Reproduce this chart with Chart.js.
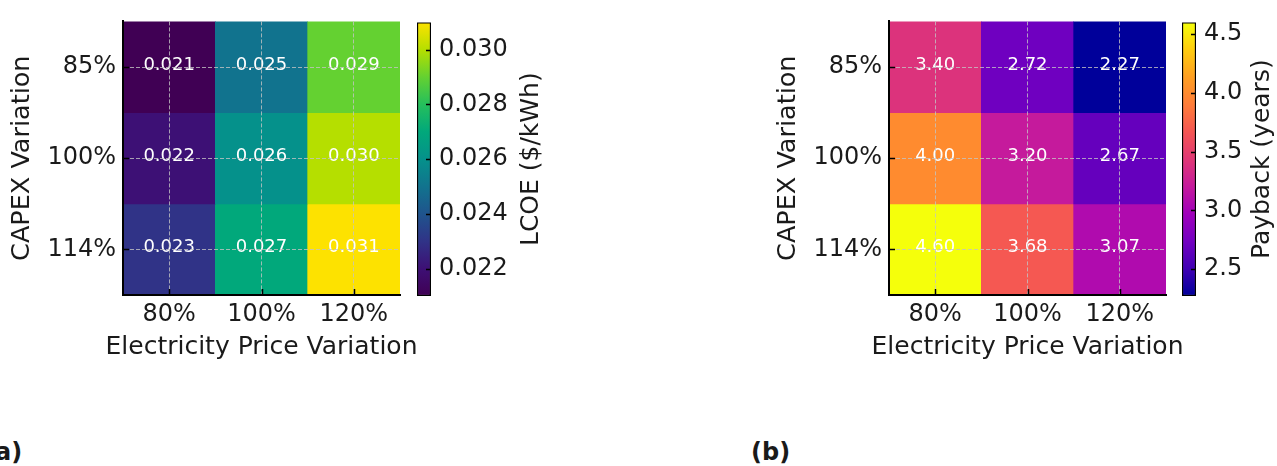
<!DOCTYPE html>
<html>
<head>
<meta charset="utf-8">
<script src="https://cdn.jsdelivr.net/npm/chart.js@4"></script>
<style>
  body { margin: 0; background: #fff; width: 1277px; height: 466px; overflow: hidden; position: relative; }
  canvas { position: absolute; top: 0; }
  .tag { position: absolute; top: 438px; font: bold 24px "DejaVu Sans", sans-serif; color: #1a1a1a; line-height: 28px; }
</style>
</head>
<body>
<canvas id="lcoe" width="440" height="372" style="left:0"></canvas>
<canvas id="lcoeBar" width="150" height="372" style="left:410px"></canvas>
<canvas id="payback" width="440" height="372" style="left:766px"></canvas>
<canvas id="paybackBar" width="102" height="372" style="left:1175px"></canvas>
<div class="tag" style="left:-16px">(a)</div>
<div class="tag" style="left:751px">(b)</div>
<script>
// axis categories
const priceLabels = ['80%', '100%', '120%'];
const capexLabels = ['85%', '100%', '114%'];

// rows = CAPEX variation, columns = electricity price variation
const lcoeValues = [
  [0.021, 0.025, 0.029],
  [0.022, 0.026, 0.030],
  [0.023, 0.027, 0.031]
];
const paybackValues = [
  [3.40, 2.72, 2.27],
  [4.00, 3.20, 2.67],
  [4.60, 3.68, 3.07]
];

// colorbar ticks
const lcoeTicks = [0.022, 0.024, 0.026, 0.028, 0.030];
const paybackTicks = [2.5, 3.0, 3.5, 4.0, 4.5];

// colormap stops (matplotlib viridis / plasma sampled at 0, 0.1 ... 1)
const viridisStops = ['#440154', '#482475', '#414487', '#355f8d', '#2a788e', '#21918c',
  '#22a884', '#44bf70', '#7ad151', '#bddf26', '#fde725'];
const plasmaStops = ['#0d0887', '#41049d', '#6a00a8', '#8f0da4', '#b12a90', '#cc4778',
  '#e16462', '#f2844b', '#fca636', '#fcce25', '#f0f921'];

const FONT = '"DejaVu Sans", sans-serif';
const TEXT = '#1a1a1a';
const GRID = 'rgba(195,195,195,0.8)';

Chart.defaults.font.family = FONT;
Chart.defaults.color = TEXT;

function hexRgb(h) {
  return [1, 3, 5].map(i => parseInt(h.slice(i, i + 2), 16));
}

// the picture's colours are more saturated than plain matplotlib:
// stretch the channels up from the lowest one, then down from the highest one
function vivid(rgb, up, down) {
  const lo = Math.min(...rgb), hi = Math.max(...rgb);
  const k = hi > lo ? Math.min(up, (255 - lo) / (hi - lo)) : 1;
  const c = rgb.map(v => lo + (v - lo) * k);
  const top = Math.max(...c);
  return c.map(v => Math.max(0, Math.round(top - (top - v) * down)));
}

const viridis = viridisStops.map(h => vivid(hexRgb(h), 1, 1.25));
const plasma = plasmaStops.map(h => vivid(hexRgb(h), 1.15, 1.1));

const css = c => `rgb(${c[0]},${c[1]},${c[2]})`;

function cmap(stops, t) {
  t = Math.max(0, Math.min(1, t));
  const p = t * (stops.length - 1);
  const i = Math.min(Math.floor(p), stops.length - 2);
  const f = p - i;
  const a = stops[i], b = stops[i + 1];
  return css(a.map((v, k) => Math.round(v + (b[k] - v) * f)));
}

// white value written in the middle of every cell
const cellLabels = {
  id: 'cellLabels',
  afterDatasetsDraw(chart) {
    const ctx = chart.ctx;
    ctx.save();
    ctx.fillStyle = '#fff';
    ctx.font = '18px ' + FONT;
    ctx.textAlign = 'center';
    ctx.textBaseline = 'middle';
    chart.data.datasets.forEach((ds, i) => {
      chart.getDatasetMeta(i).data.forEach((bar, j) => {
        const p = bar.getProps(['x', 'y', 'base'], true);
        ctx.fillText(ds.cellText[j], p.x, (p.y + p.base) / 2 - 2);
      });
    });
    ctx.restore();
  }
};

// x axis title drawn by hand so it is not squeezed to the plot width
const bottomTitle = {
  id: 'bottomTitle',
  afterDraw(chart, args, opts) {
    const { ctx, chartArea: a } = chart;
    ctx.save();
    ctx.font = '25px ' + FONT;
    ctx.fillStyle = TEXT;
    ctx.textAlign = 'center';
    ctx.textBaseline = 'middle';
    ctx.fillText(opts.text, (a.left + a.right) / 2, a.bottom + 52);
    ctx.restore();
  }
};

// short black ticks pointing into the plot, like matplotlib's direction='in'
const inwardTicks = {
  id: 'inwardTicks',
  afterDraw(chart) {
    const { ctx, chartArea: a } = chart;
    ctx.save();
    ctx.strokeStyle = '#000';
    ctx.lineWidth = 1.5;
    ctx.beginPath();
    Object.values(chart.scales).forEach(s => {
      if (!s.options.display) return;
      s.ticks.forEach((t, i) => {
        const p = Math.round(s.getPixelForTick(i)) + 0.5;
        if (s.position === 'bottom') { ctx.moveTo(p, a.bottom); ctx.lineTo(p, a.bottom - 6); }
        else if (s.position === 'left') { ctx.moveTo(a.left, p); ctx.lineTo(a.left + 6, p); }
        else if (s.position === 'right') { ctx.moveTo(a.right, p); ctx.lineTo(a.right - 5, p); }
      });
    });
    ctx.stroke();
    ctx.restore();
  }
};

// colorbar label, reading bottom to top
const sideTitle = {
  id: 'sideTitle',
  afterDraw(chart, args, opts) {
    const { ctx, chartArea: a } = chart;
    ctx.save();
    ctx.translate(a.right + opts.offset, (a.top + a.bottom) / 2);
    ctx.rotate(-Math.PI / 2);
    ctx.font = '25px ' + FONT;
    ctx.fillStyle = TEXT;
    ctx.textAlign = 'center';
    ctx.textBaseline = 'middle';
    ctx.fillText(opts.text, 0, 0);
    ctx.restore();
  }
};

function heatmap(id, values, stops, digits) {
  const flat = values.flat();
  const vmin = Math.min(...flat), vmax = Math.max(...flat);
  const datasets = capexLabels.map((_, r) => ({
    data: priceLabels.map(() => [r, r + 1]),
    backgroundColor: values[r].map(v => cmap(stops, (v - vmin) / (vmax - vmin))),
    cellText: values[r].map(v => v.toFixed(digits)),
    grouped: false,
    barPercentage: 1,
    categoryPercentage: 1,
    borderWidth: 0
  }));

  new Chart(document.getElementById(id), {
    type: 'bar',
    data: { labels: priceLabels, datasets },
    options: {
      responsive: false,
      animation: false,
      layout: { padding: { top: 18, right: 40 } },
      plugins: {
        legend: { display: false },
        tooltip: { enabled: false },
        bottomTitle: { text: 'Electricity Price Variation' }
      },
      scales: {
        x: {
          grid: { z: 1, offset: false, color: GRID, lineWidth: 1, drawTicks: false },
          border: { z: 1, color: '#000', width: 2, dash: [4, 2] },
          ticks: { font: { size: 24 }, padding: 5 },
          afterFit: s => { s.height = 77; }
        },
        y: {
          min: 0,
          max: 3,
          reverse: true,
          grid: { z: 1, color: GRID, lineWidth: 1, drawTicks: false },
          border: { z: 1, color: '#000', width: 2, dash: [4, 2] },
          afterBuildTicks: s => { s.ticks = capexLabels.map((_, i) => ({ value: i + 0.5 })); },
          ticks: { font: { size: 24 }, padding: 7, callback: v => capexLabels[Math.floor(v)] },
          title: { display: true, text: 'CAPEX Variation', font: { size: 25.5 }, padding: { top: 7 } },
          afterFit: s => { s.width = 123; }
        }
      }
    },
    plugins: [cellLabels, inwardTicks, bottomTitle]
  });
}

function colorbar(id, values, stops, tickValues, digits, label, titleOffset) {
  const flat = values.flat();
  const vmin = Math.min(...flat), vmax = Math.max(...flat);
  const canvas = document.getElementById(id);
  const barWidth = 14, padLeft = 7;

  new Chart(canvas, {
    type: 'bar',
    data: {
      labels: [''],
      datasets: [{
        data: [[vmin, vmax]],
        backgroundColor: c => {
          const a = c.chart.chartArea;
          if (!a) return css(stops[0]);
          const g = c.chart.ctx.createLinearGradient(0, a.bottom, 0, a.top);
          stops.forEach((s, i) => g.addColorStop(i / (stops.length - 1), css(s)));
          return g;
        },
        borderColor: '#000',
        borderWidth: 1.5,
        borderSkipped: false,
        barPercentage: 1,
        categoryPercentage: 1
      }]
    },
    options: {
      responsive: false,
      animation: false,
      layout: { padding: { top: 18, bottom: 76, left: padLeft } },
      plugins: {
        legend: { display: false },
        tooltip: { enabled: false },
        sideTitle: { text: label, offset: titleOffset }
      },
      scales: {
        x: { display: false },
        y: {
          position: 'right',
          min: vmin,
          max: vmax,
          grid: { display: false, drawTicks: false },
          border: { display: false },
          afterBuildTicks: s => { s.ticks = tickValues.map(v => ({ value: v })); },
          ticks: { font: { size: 24 }, padding: 8, callback: v => v.toFixed(digits) },
          afterFit: s => { s.width = canvas.width - padLeft - barWidth; }
        }
      }
    },
    plugins: [inwardTicks, sideTitle]
  });
}

heatmap('lcoe', lcoeValues, viridis, 3);
colorbar('lcoeBar', lcoeValues, viridis, lcoeTicks, 3, 'LCOE ($/kWh)', 100);
heatmap('payback', paybackValues, plasma, 2);
colorbar('paybackBar', paybackValues, plasma, paybackTicks, 1, 'Payback (years)', 66);
</script>
</body>
</html>
